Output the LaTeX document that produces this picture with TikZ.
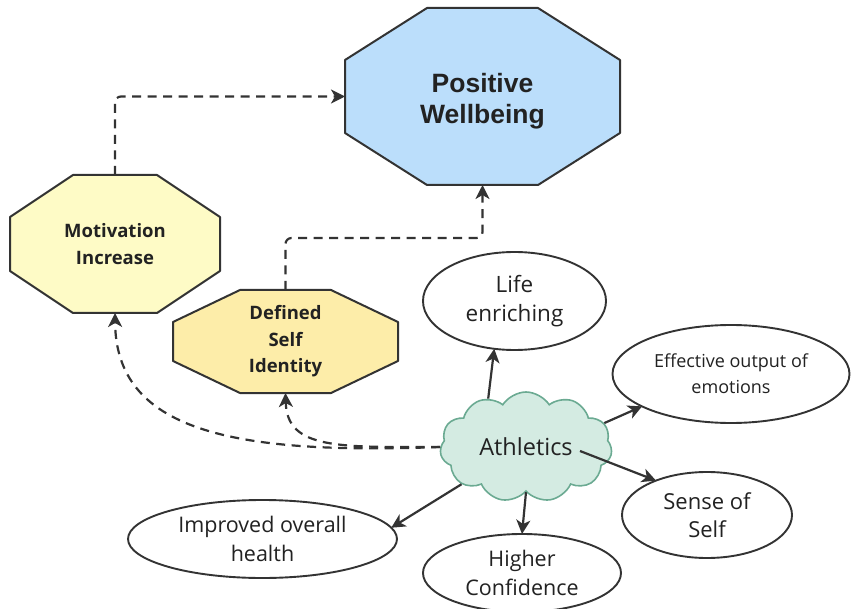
\documentclass[tikz,border=0pt]{standalone}
\usepackage{fontspec}
\setmainfont{Open Sans}
\newfontfamily\headfont{Liberation Sans}
\usetikzlibrary{shapes.symbols,shapes.geometric,arrows.meta,calc,backgrounds}

\definecolor{ink}{HTML}{333333}
\definecolor{txt}{HTML}{222222}
\definecolor{goalfill}{HTML}{BBDEFB}
\definecolor{motfill}{HTML}{FEFBC6}
\definecolor{idfill}{HTML}{FDEDA9}
\definecolor{cloudfill}{HTML}{D4EBE2}
\definecolor{cloudline}{HTML}{6BAA92}

% octagon outline around a rectangular node: #1 node, #2 horizontal cut, #3 vertical cut
\newcommand\octagonpath[3]{%
  ($(#1.north west)+(#2,0)$) -- ($(#1.north east)+(-#2,0)$) --
  ($(#1.north east)+(0,#3)$) -- ($(#1.south east)+(0,-#3)$) --
  ($(#1.south east)+(-#2,0)$) -- ($(#1.south west)+(#2,0)$) --
  ($(#1.south west)+(0,-#3)$) -- ($(#1.north west)+(0,#3)$) -- cycle}

\begin{document}
\begin{tikzpicture}[x=1pt,y=-1pt,
  conn/.style={draw=ink, line width=2.2pt,
    -{Stealth[length=14pt,width=14pt,inset=4pt]}},
  flow/.style={conn, dash pattern=on 9pt off 6.5pt, rounded corners=6pt},
  octa/.style={rectangle, inner sep=0pt, outer sep=0pt, align=center, text=txt},
  octaline/.style={draw=ink, line width=2pt, line join=round},
  bubble/.style={ellipse, draw=ink, line width=1.9pt, fill=white,
    inner sep=0pt, outer sep=0pt, align=center, text=txt},
]
\useasboundingbox (0,0) rectangle (851,609);

% goal and intermediate outcomes
\node[octa, minimum width=275pt, minimum height=177pt,
  font=\headfont\bfseries\fontsize{26.5}{31}\selectfont] (pw) at (482.5,96.5)
  {\rule{0pt}{29pt}Positive\\Wellbeing};
\node[octa, minimum width=210pt, minimum height=138pt,
  font=\bfseries\fontsize{18.5}{26.5}\selectfont] (mi) at (115,244)
  {Motivation\\Increase};
\node[octa, minimum width=225pt, minimum height=103pt,
  font=\bfseries\fontsize{18.5}{26.5}\selectfont] (dsi) at (285.5,341.5)
  {Defined\\Self\\Identity};

\begin{scope}[on background layer]
  \draw[octaline, fill=goalfill] \octagonpath{pw}{82}{52};
  \draw[octaline, fill=motfill] \octagonpath{mi}{63}{42};
  \draw[octaline, fill=idfill] \octagonpath{dsi}{67}{32};
\end{scope}

% central activity
\node[cloud, cloud puffs=11, cloud puff arc=115, cloud ignores aspect,
  draw=cloudline, fill=cloudfill, line width=1.6pt, text=txt,
  minimum width=172pt, minimum height=110pt,
  font=\fontsize{23.5}{28}\selectfont] (ath) at (526,447) {Athletics};

% benefits
\node[bubble, minimum width=183pt, minimum height=98pt,
  font=\fontsize{22.5}{29}\selectfont] (le) at (514.5,301) {Life\\enriching};
\node[bubble, minimum width=237pt, minimum height=98pt,
  font=\fontsize{18}{26}\selectfont] (eo) at (731,374) {Effective output of\\emotions};
\node[bubble, minimum width=170pt, minimum height=86pt,
  font=\fontsize{22}{28.5}\selectfont] (ss) at (707,515) {Sense of\\Self};
\node[bubble, minimum width=198pt, minimum height=78pt,
  font=\fontsize{21.5}{29}\selectfont] (hc) at (522,573) {Higher\\Confidence};
\node[bubble, minimum width=269pt, minimum height=78pt,
  font=\fontsize{21.5}{29}\selectfont] (iho) at (262.5,539) {Improved overall\\health};

% dashed links toward wellbeing
\draw[flow] (mi.north) |- (pw.west);
\draw[flow] (dsi.north) |- ($(pw.south)+(0,53)$) -- (pw.south);
\draw[flow] (ath.west) .. controls (230,455) and (116,430) .. (mi.south);
\draw[flow] (ath.west) .. controls (340,447) and (287,450) .. (dsi.south);

% solid links to benefits
\draw[conn] (ath.128) -- (le.247);
\draw[conn] (ath.17) -- (eo.200);
\draw[conn] ($(ath.center)+(54,4)$) -- (ss.146);
\draw[conn] (ath.210) -- (iho.5);
\draw[conn] (ath.south) -- (hc.north);
\end{tikzpicture}
\end{document}
